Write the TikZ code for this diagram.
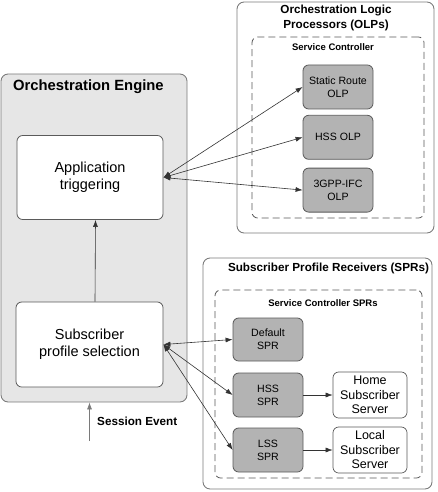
\documentclass[tikz,border=0pt]{standalone}
\usepackage{fontspec}
\setmainfont{Liberation Sans}
\usetikzlibrary{arrows.meta,positioning,calc}
\definecolor{panelgray}{HTML}{E6E6E6}
\definecolor{linegray}{HTML}{7A7A7A}
\definecolor{boxgray}{HTML}{B3B3B3}
\definecolor{darkline}{HTML}{5A5A5A}
\tikzset{
    panel/.style={
        rectangle,                % contenedor grande
        rounded corners=2.5mm,    % esquinas redondeadas
        draw=linegray,            % borde gris medio
        line width=0.9pt,
        inner sep=0pt
    },
    dashpanel/.style={
        rectangle,
        rounded corners=2mm,
        draw=darkline,
        dash pattern=on 7pt off 4pt, % trazo discontinuo largo
        line width=0.8pt,
        inner sep=0pt
    },
    stagebox/.style={
        rectangle,
        rounded corners=2mm,
        draw=darkline,
        fill=white,               % caja blanca del motor
        line width=0.8pt,
        minimum width=146pt,
        minimum height=84pt,
        align=center,
        font=\fontsize{14.5}{17}\selectfont
    },
    procbox/.style={
        rectangle,
        rounded corners=2mm,
        draw=darkline,
        fill=boxgray,             % relleno gris oscuro
        line width=0.8pt,
        minimum width=70pt,
        minimum height=44pt,
        align=center,
        font=\fontsize{10.6}{13.3}\selectfont
    },
    serverbox/.style={
        rectangle,
        rounded corners=2mm,
        draw=darkline,
        fill=white,
        line width=0.7pt,
        minimum width=74pt,
        minimum height=46pt,
        align=center,
        font=\fontsize{12.5}{14.5}\selectfont
    },
    paneltitle/.style={
        align=center,
        inner sep=0pt,
        font=\bfseries\fontsize{11.7}{15}\selectfont
    },
    sublabel/.style={
        inner sep=0pt,
        font=\bfseries\fontsize{9.5}{11}\selectfont
    },
    flow/.style={
        ->,
        line width=0.6pt,
        draw=black!80
    },
    dflow/.style={
        <->,
        line width=0.6pt,
        draw=black!80
    }
}

\begin{document}
\begin{tikzpicture}[x=1pt,y=-1pt,>={Latex[length=7pt,width=5pt]}]
    \useasboundingbox (0,0) rectangle (437,492);

    % motor de orquestacion
    \node[panel,fill=panelgray,minimum width=186pt,minimum height=328pt] (engine) at (94,238) {};
    \node[anchor=west,inner sep=0pt,font=\bfseries\fontsize{14.8}{17}\selectfont] (enginetitle) at (13,87) {Orchestration Engine};
    \node[stagebox] (apptrig) at (90,177.5) {Application\\triggering};
    \node[stagebox,minimum width=147pt,minimum height=85pt] (subsel) at (89.5,344.5) {Subscriber\\profile selection};

    % procesadores OLP
    \node[panel,fill=white,minimum width=197pt,minimum height=231pt] (olps) at (335.5,117.5) {};
    \node[paneltitle] (olptitle) at (336,18) {Orchestration Logic\\Processors (OLPs)};
    \node[dashpanel,minimum width=172pt,minimum height=181pt] (svcctl) at (338,127.5) {};
    \node[sublabel] (svcctltitle) at (333,47) {Service Controller};
    \node[procbox] (staticolp) at (338,87) {Static Route\\OLP};
    \node[procbox,below=5.5pt of staticolp] (hssolp) {HSS OLP};
    \node[procbox,below=8pt of hssolp] (gppolp) {3GPP-IFC\\OLP};

    % receptores SPR
    \node[panel,fill=white,minimum width=229pt,minimum height=231pt] (sprs) at (317.5,373.5) {};
    \node[paneltitle] (sprtitle) at (328.5,268) {Subscriber Profile Receivers (SPRs)};
    \node[dashpanel,minimum width=207pt,minimum height=188pt] (svcspr) at (318.5,384) {};
    \node[sublabel] (svcsprtitle) at (323,303) {Service Controller SPRs};
    \node[procbox,minimum height=43pt] (defspr) at (268,339.5) {Default\\SPR};
    \node[procbox] (hssspr) at (268,395) {HSS\\SPR};
    \node[procbox] (lssspr) at (268,450) {LSS\\SPR};
    \node[serverbox] (homesrv) at (370,395) {Home\\Subscriber\\Server};
    \node[serverbox] (localsrv) at (370,450) {Local\\Subscriber\\Server};

    % evento de sesion
    \coordinate (evt) at (89.5,441);
    \node[anchor=west,inner sep=0pt,font=\bfseries\fontsize{11.7}{14}\selectfont] (evtlabel) at (97,421) {Session Event};

    \draw[flow,draw=linegray] (evt) -- (evt |- engine.south);
    \draw[flow] ([xshift=5.5pt]subsel.north) -- ([xshift=5.5pt]apptrig.south);
    \draw[dflow] (apptrig.east) -- (staticolp.west);
    \draw[dflow] (apptrig.east) -- (hssolp.west);
    \draw[dflow] (apptrig.east) -- (gppolp.west);
    \draw[dflow] (subsel.east) -- (defspr.west);
    \draw[dflow] (subsel.east) -- (hssspr.west);
    \draw[dflow] (subsel.east) -- (lssspr.west);
    \draw[flow] (hssspr) -- (homesrv);
    \draw[flow] (lssspr) -- (localsrv);
\end{tikzpicture}
\end{document}
